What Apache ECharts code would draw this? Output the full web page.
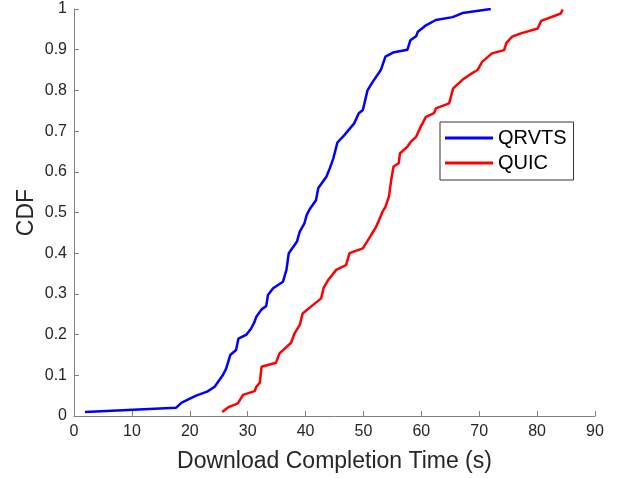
<!DOCTYPE html>
<html>
<head>
<meta charset="utf-8">
<script src="https://cdn.jsdelivr.net/npm/echarts@6/dist/echarts.min.js"></script>
<style>
  html, body { margin: 0; padding: 0; background: #fff; }
  #chart { width: 621px; height: 478px; }
</style>
</head>
<body>
<div id="chart"></div>
<script>
// CDF points: [time (s), cumulative fraction]
const qrvtsTime = [1.9, 17.6, 18.6, 21.1, 23.0, 24.3, 24.9, 25.7, 26.3, 27.0, 28.0, 28.4, 29.8, 30.6, 31.2, 31.5, 32.4, 33.2, 33.5, 34.4, 36.1, 36.7, 37.1, 38.5, 39.0, 39.8, 40.2, 40.8, 41.8, 42.2, 43.6, 44.2, 44.8, 45.5, 46.7, 48.4, 49.2, 49.9, 50.7, 51.6, 53.0, 53.8, 55.1, 57.6, 58.1, 59.1, 59.4, 60.8, 62.5, 65.4, 67.1, 72.0];
const qrvtsCdf = [0.01, 0.02, 0.033, 0.05, 0.06, 0.072, 0.084, 0.10, 0.117, 0.15, 0.162, 0.19, 0.20, 0.215, 0.232, 0.244, 0.262, 0.27, 0.297, 0.314, 0.33, 0.359, 0.40, 0.428, 0.453, 0.473, 0.494, 0.51, 0.53, 0.56, 0.588, 0.609, 0.633, 0.672, 0.69, 0.719, 0.744, 0.752, 0.80, 0.821, 0.85, 0.883, 0.893, 0.90, 0.923, 0.933, 0.944, 0.96, 0.973, 0.98, 0.99, 1.0];

const quicTime = [25.6, 26.6, 28.3, 29.2, 31.2, 31.5, 32.1, 32.4, 34.9, 35.5, 37.5, 38.1, 39.0, 39.5, 41.3, 42.7, 43.1, 43.9, 45.3, 47.0, 47.6, 49.9, 51.0, 52.2, 53.3, 53.8, 54.4, 54.8, 55.2, 56.1, 56.3, 57.6, 58.2, 59.1, 59.9, 60.8, 62.2, 62.5, 64.8, 65.5, 67.1, 68.3, 69.7, 70.5, 72.2, 74.3, 74.7, 75.7, 77.2, 80.1, 80.7, 84.1, 84.4];
const quicCdf = [0.01, 0.021, 0.031, 0.052, 0.061, 0.072, 0.082, 0.121, 0.131, 0.154, 0.18, 0.203, 0.224, 0.252, 0.273, 0.289, 0.314, 0.334, 0.359, 0.371, 0.40, 0.412, 0.437, 0.465, 0.502, 0.514, 0.539, 0.58, 0.613, 0.621, 0.645, 0.662, 0.674, 0.686, 0.711, 0.735, 0.744, 0.756, 0.768, 0.805, 0.826, 0.838, 0.85, 0.87, 0.891, 0.899, 0.917, 0.932, 0.94, 0.952, 0.971, 0.989, 0.999];

const seriesNames = ['QRVTS', 'QUIC'];
const seriesColors = ['#0000ff', '#ff0000'];

function pairs(xs, ys) {
    return xs.map((x, i) => [x, ys[i]]);
}

const chart = echarts.init(document.getElementById('chart'));

const axisCommon = {
    axisLine: { show: true, lineStyle: { color: '#808080', width: 1 } },
    axisTick: { show: true, inside: true, length: 5, lineStyle: { color: '#808080' } },
    splitLine: { show: false },
    axisLabel: { color: '#262626', fontSize: 16, fontFamily: 'Liberation Sans' },
    nameTextStyle: { color: '#262626', fontSize: 23, fontFamily: 'Liberation Sans' },
    nameLocation: 'middle',
    nameMoveOverlap: false
};

chart.setOption({
    animation: false,
    grid: { left: 74, right: 26, top: 9, bottom: 62 },
    legend: {
        left: 440,
        top: 122,
        orient: 'vertical',
        data: seriesNames,
        icon: 'rect',
        itemWidth: 48,
        itemHeight: 3,
        itemGap: 5,
        padding: [6, 7, 7, 5],
        borderColor: '#333',
        borderWidth: 1,
        textStyle: { color: '#000', fontSize: 20, fontFamily: 'Liberation Sans', lineHeight: 20 }
    },
    xAxis: Object.assign({}, axisCommon, {
        type: 'value',
        min: 0,
        max: 90,
        interval: 10,
        name: 'Download Completion Time (s)',
        nameGap: 34,
        axisLabel: Object.assign({}, axisCommon.axisLabel, { margin: 8 })
    }),
    yAxis: Object.assign({}, axisCommon, {
        type: 'value',
        min: 0,
        max: 1,
        interval: 0.1,
        name: 'CDF',
        nameGap: 36,
        axisLabel: Object.assign({}, axisCommon.axisLabel, { margin: 7 })
    }),
    series: [
        {
            name: seriesNames[0],
            type: 'line',
            data: pairs(qrvtsTime, qrvtsCdf),
            symbol: 'none',
            color: seriesColors[0],
            lineStyle: { color: seriesColors[0], width: 2.5 }
        },
        {
            name: seriesNames[1],
            type: 'line',
            data: pairs(quicTime, quicCdf),
            symbol: 'none',
            color: seriesColors[1],
            lineStyle: { color: seriesColors[1], width: 2.5 }
        }
    ]
});
</script>
</body>
</html>
